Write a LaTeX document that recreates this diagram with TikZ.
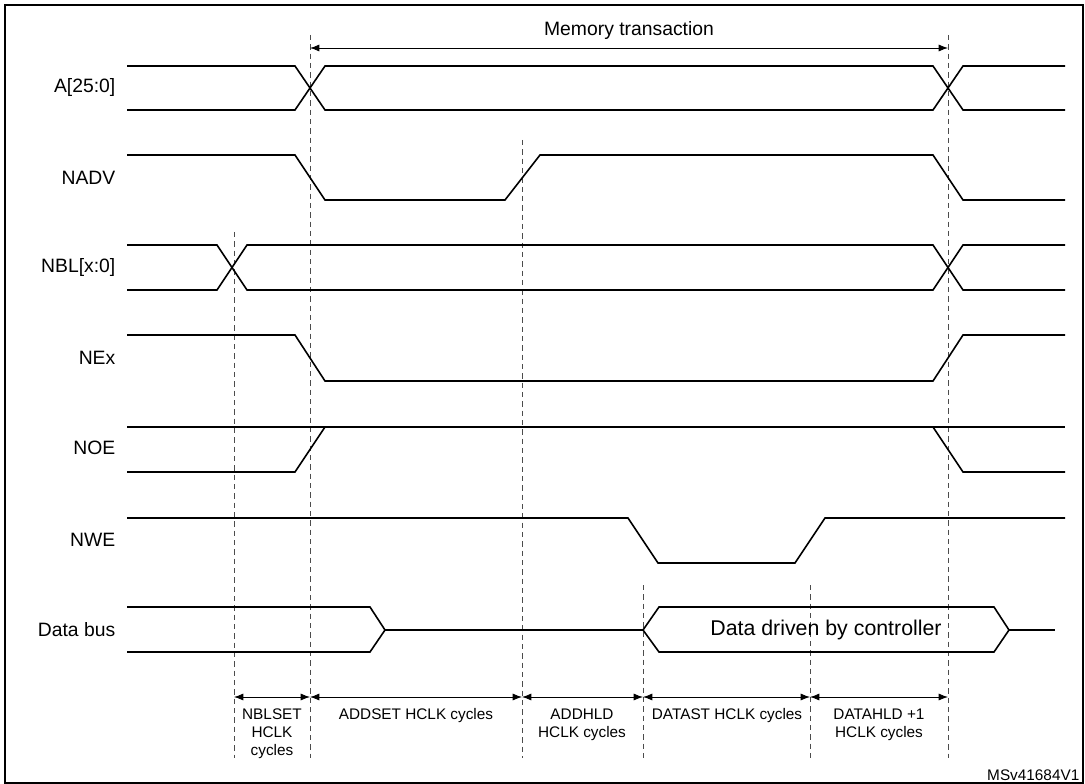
\documentclass[tikz,border=0pt]{standalone}
\usepackage{fontspec}
\setmainfont{Liberation Sans}
\usetikzlibrary{arrows.meta}
\begin{document}
\begin{tikzpicture}[x=0.75pt,y=-0.75pt,
  sig/.style={line width=1.2pt},
  dsh/.style={dashed,line width=0.6pt,dash pattern=on 4pt off 3pt,black!70},
  dim/.style={{Latex[length=7pt]}-{Latex[length=7pt]},line width=0.6pt},
  lbl/.style={anchor=east,font=\fontsize{14.5}{17}\selectfont},
  sm/.style={font=\fontsize{11.5}{13.5}\selectfont,align=center,anchor=north}]
\useasboundingbox (0,0) rectangle (1085,784);
\draw[line width=1.2pt] (5,5) rectangle (1083,783);
% dashed lines
\foreach \x/\t in {234/232,310/35,522/140,643/585,810/585,948/35}{
  \coordinate (t\x) at (\x,\t); \coordinate (b\x) at (\x,758);
  \draw[dsh] (t\x) -- (b\x);}
% labels
\node[lbl] (la) at (120,88) {A[25:0]};
\node[lbl] (lb) at (120,178) {NADV};
\node[lbl] (lc) at (120,268) {NBL[x:0]};
\node[lbl] (ld) at (120,358) {NEx};
\node[lbl] (le) at (120,448) {NOE};
\node[lbl] (lf) at (120,540) {NWE};
\node[lbl] (lg) at (120,630) {Data bus};
% A
\draw[sig] (127,66) -- (295,66) -- (325,110) -- (933,110) -- (963,66) -- (1065,66);
\draw[sig] (127,110) -- (295,110) -- (325,66) -- (933,66) -- (963,110) -- (1065,110);
% NADV
\draw[sig] (127,155) -- (295,155) -- (325,200) -- (505,200) -- (540,155) -- (933,155) -- (963,200) -- (1065,200);
% NBL
\draw[sig] (127,245) -- (217,245) -- (247,290) -- (933,290) -- (963,245) -- (1065,245);
\draw[sig] (127,290) -- (217,290) -- (247,245) -- (933,245) -- (963,290) -- (1065,290);
% NEx
\draw[sig] (127,335) -- (295,335) -- (325,381) -- (933,381) -- (963,335) -- (1065,335);
% NOE
\draw[sig] (127,427) -- (1065,427);
\draw[sig] (127,472) -- (295,472) -- (325,427);
\draw[sig] (933,427) -- (963,472) -- (1065,472);
% NWE
\draw[sig] (127,518) -- (628,518) -- (658,563) -- (795,563) -- (825,518) -- (1065,518);
% Data bus
\draw[sig] (127,607) -- (370,607) -- (385,630) -- (370,652) -- (127,652);
\draw[sig] (385,630) -- (643,630);
\draw[sig,line join=miter] (643,630) -- (659,607) -- (994,607) -- (1009,630) -- (994,652) -- (659,652) -- cycle;
\draw[sig] (1009,630) -- (1055,630);
\node[font=\fontsize{16}{19}\selectfont] (dd) at (826,630) {Data driven by controller};
% memory transaction
\coordinate (m1) at (310,48); \coordinate (m2) at (948,48);
\draw[dim] (m1) -- (m2);
\node[font=\fontsize{14.5}{17}\selectfont] (mt) at (629,31) {Memory transaction};
% bottom dims
\foreach \a/\b in {234/310,310/522,522/643,643/810,810/948}{
  \coordinate (d\a) at (\a,697); \coordinate (e\a) at (\b,697);
  \draw[dim] (d\a) -- (e\a);}
\node[sm] (n1) at (272,704) {NBLSET\\HCLK\\cycles};
\node[sm] (n2) at (416,704) {ADDSET HCLK cycles};
\node[sm] (n3) at (582,704) {ADDHLD\\HCLK cycles};
\node[sm] (n4) at (727,704) {DATAST HCLK cycles};
\node[sm] (n5) at (879,704) {DATAHLD +1\\HCLK cycles};
\node[font=\fontsize{11.5}{13.5}\selectfont,anchor=east] (ms) at (1084,775) {MSv41684V1};
\end{tikzpicture}
\end{document}
